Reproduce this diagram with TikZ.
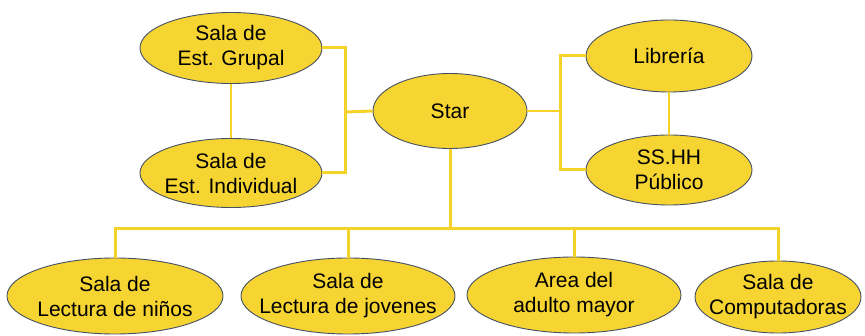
\documentclass[tikz,border=0pt]{standalone}
\usepackage{fontspec}
\setmainfont{Liberation Sans}
\usetikzlibrary{shapes.geometric}
\definecolor{fillY}{RGB}{246,212,50}
\definecolor{lineY}{RGB}{245,210,40}
\definecolor{edgeC}{RGB}{70,80,100}
\begin{document}
\begin{tikzpicture}[x=1pt,y=-1pt,
  oval/.style={ellipse,draw=edgeC,line width=0.9pt,fill=fillY,inner xsep=-30pt,inner ysep=-8pt,
    align=center,font=\fontsize{21}{25}\selectfont},
  thickcon/.style={draw=lineY,line width=3pt},
  thincon/.style={draw=lineY,line width=1.2pt}]
\useasboundingbox (0,0) rectangle (865,336);
\node[oval,minimum width=182pt,minimum height=71pt] (grupal) at (231,48) {Sala de\\Est. Grupal};
\node[oval,minimum width=182pt,minimum height=69pt] (indiv) at (231,173) {Sala de\\Est. Individual};
\node[oval,minimum width=154pt,minimum height=75pt] (star) at (450,111) {Star};
\node[oval,minimum width=166pt,minimum height=72pt] (lib) at (669,56) {Librería};
\node[oval,minimum width=166pt,minimum height=70pt] (ss) at (669,170) {SS.HH\\Público};
\node[oval,minimum width=216pt,minimum height=76pt] (ninos) at (115,296) {Sala de\\Lectura de niños};
\node[oval,minimum width=214pt,minimum height=76pt] (jov) at (348,296) {Sala de\\Lectura de jovenes};
\node[oval,minimum width=214pt,minimum height=76pt] (adul) at (574,295) {Area del\\adulto mayor};
\node[oval,minimum width=166pt,minimum height=72pt] (comp) at (778,297) {Sala de\\Computadoras};
\coordinate (jL) at (345,112);
\coordinate (jR) at (560,111);
\coordinate (bus) at (450,229);
% left group
\draw[thincon] (grupal.south) -- (indiv.north);
\draw[thickcon] (grupal.east) -| (jL) |- (indiv.east);
\draw[thickcon] (jL) -- (star.west);
% right group
\draw[thincon] (star.east) -- (jR);
\draw[thincon] (lib.south) -- (ss.north);
\draw[thickcon] (lib.west) -| (jR) |- (ss.west);
% bottom bus
\draw[thickcon] (star.south) -- (bus);
\draw[thickcon] (ninos.north) |- (bus);
\draw[thickcon] (jov.north) |- (bus);
\draw[thickcon] (adul.north) |- (bus);
\draw[thickcon] (comp.north) |- (bus);
\end{tikzpicture}
\end{document}
